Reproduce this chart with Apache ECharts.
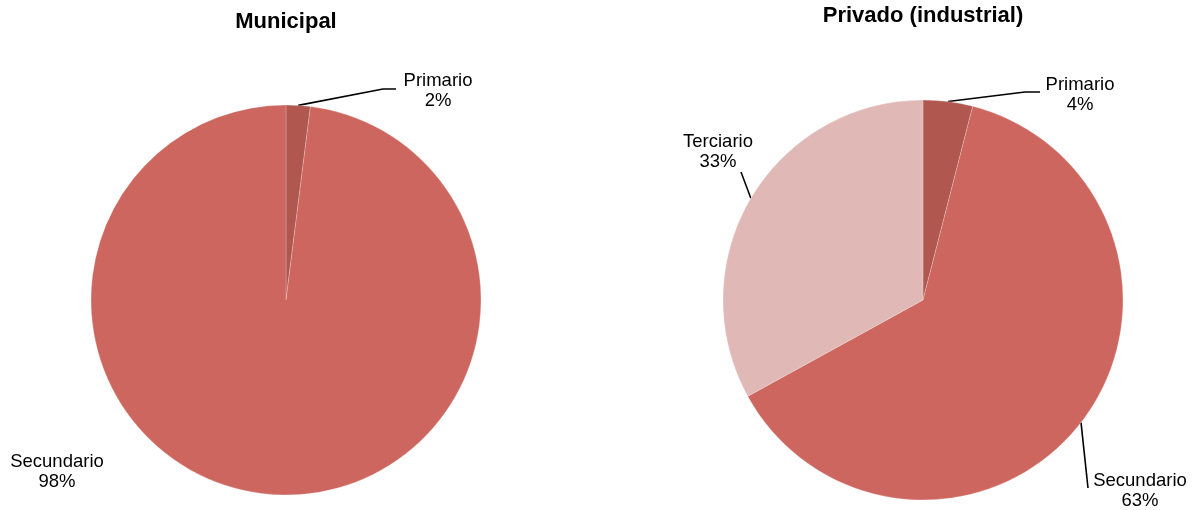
<!DOCTYPE html>
<html><head><meta charset="utf-8">
<script src="https://cdn.jsdelivr.net/npm/echarts@6/dist/echarts.min.js"></script>
<style>html,body{margin:0;padding:0;background:#fff}#c{width:1194px;height:510px}</style>
</head><body><div id="c"></div>
<script>
const titles = ['Municipal', 'Privado (industrial)'];
const municipalCategories = ['Primario', 'Secundario'];
const municipalValues = [2, 98];
const privadoCategories = ['Primario', 'Secundario', 'Terciario'];
const privadoValues = [4, 63, 33];
const sectorColors = {Primario: '#b0574f', Secundario: '#cc665e', Terciario: '#e0b8b6'};

// label placement (layout only)
const leftLabelLayout = [
  {x: 438, y: 91, line: [[383, 89], [396, 89]]},
  {x: 57, y: 472, line: null}
];
const rightLabelLayout = [
  {x: 1080, y: 95, line: [[1025, 92], [1040, 92]]},
  {x: 1140, y: 491, line: [[1088, 488], [1088, 488]]},
  {x: 718, y: 152, line: [[741, 172], [741, 172]]}
];

function mkData(cats, vals, hideLineIdx) {
  return cats.map((c, i) => ({
    name: c, value: vals[i],
    itemStyle: {color: sectorColors[c]},
    labelLine: {show: hideLineIdx.indexOf(i) < 0}
  }));
}
function mkLayout(layoutArr) {
  return function (params) {
    const L = layoutArr[params.dataIndex];
    const out = {x: L.x, y: L.y, align: 'center', verticalAlign: 'middle', hideOverlap: false};
    if (L.line && params.labelLinePoints) {
      const p0 = params.labelLinePoints[0];
      out.labelLinePoints = [p0, L.line[0], L.line[1]];
    }
    return out;
  };
}
const labelStyle = {
  show: true, position: 'outside', formatter: '{b}\n{d}%',
  color: '#000', fontFamily: 'Liberation Sans, Arial, sans-serif',
  fontSize: 18.5, lineHeight: 20, align: 'center'
};
const titleStyle = {fontFamily: 'Liberation Sans, Arial, sans-serif', fontWeight: 'bold', fontSize: 22, color: '#000'};
const chart = echarts.init(document.getElementById('c'));
chart.setOption({
  animation: false,
  title: [
    {text: titles[0], left: 286, top: 11, textAlign: 'center', padding: 0, textStyle: titleStyle},
    {text: titles[1], left: 923, top: 5, textAlign: 'center', padding: 0, textStyle: titleStyle}
  ],
  series: [
    {
      type: 'pie', center: [286, 300], radius: 195, startAngle: 90, clockwise: true,
      percentPrecision: 0, avoidLabelOverlap: false,
      itemStyle: {borderColor: 'rgba(255,255,255,0.45)', borderWidth: 0.5},
      label: labelStyle,
      labelLine: {show: true, length: 10, length2: 10, lineStyle: {color: '#000', width: 1.6}},
      labelLayout: mkLayout(leftLabelLayout),
      emphasis: {disabled: true},
      data: mkData(municipalCategories, municipalValues, [1])
    },
    {
      type: 'pie', center: [923, 300], radius: 200, startAngle: 90, clockwise: true,
      percentPrecision: 0, avoidLabelOverlap: false,
      itemStyle: {borderColor: 'rgba(255,255,255,0.45)', borderWidth: 0.5},
      label: labelStyle,
      labelLine: {show: true, length: 10, length2: 10, lineStyle: {color: '#000', width: 1.6}},
      labelLayout: mkLayout(rightLabelLayout),
      emphasis: {disabled: true},
      data: mkData(privadoCategories, privadoValues, [])
    }
  ]
});
</script></body></html>
